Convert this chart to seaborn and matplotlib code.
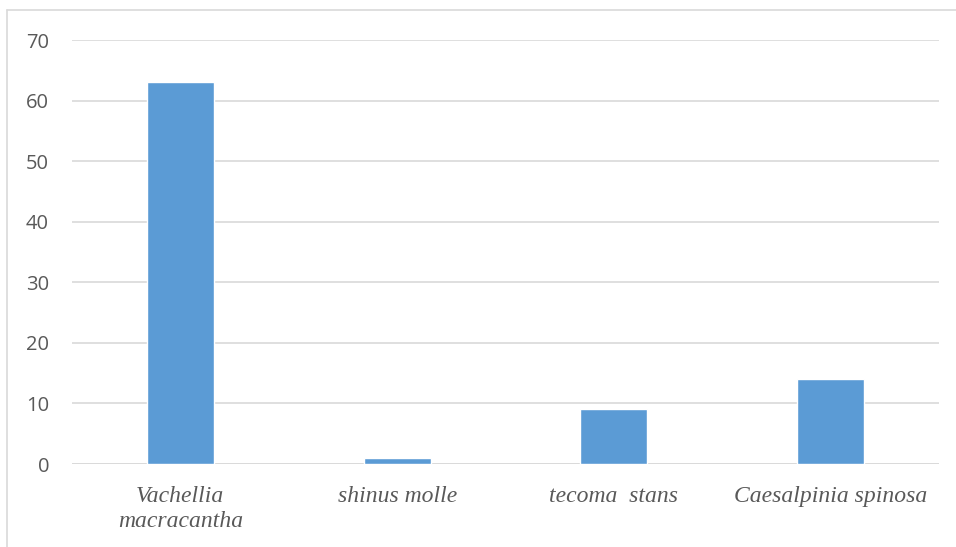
import matplotlib
matplotlib.use("Agg")
import matplotlib.pyplot as plt
import seaborn as sns
import pandas as pd
from matplotlib.lines import Line2D

categories = ["Vachellia\nmacracantha", "shinus molle", "tecoma  stans", "Caesalpinia spinosa"]
values = [63, 1, 9, 14]
yticks = [0, 10, 20, 30, 40, 50, 60, 70]

sns.set_theme(style="white")
plt.rcParams['font.family'] = ['Open Sans', 'DejaVu Sans']

df = pd.DataFrame({"cat": categories, "val": values})

fig = plt.figure(figsize=(9.56, 5.47), dpi=100)
ax = fig.add_axes([72/956, 1-464/547, (939-72)/956, (464-40)/547])

sns.barplot(data=df, x="cat", y="val", color="#5B9BD5", width=0.31,
            saturation=1, ax=ax, zorder=3)

ax.set_ylim(0, 70)
ax.set_yticks(yticks)
ax.set_yticklabels([str(t) for t in yticks], fontsize=14.5, color="#595959")
ax.yaxis.grid(True, color="#D9D9D9", linewidth=1.2, zorder=0)
ax.set_axisbelow(True)
for s in ax.spines.values():
    s.set_visible(False)
ax.tick_params(axis="both", length=0)
ax.tick_params(axis="y", pad=16.5)
ax.tick_params(axis="x", pad=16)
ax.set_xlabel("")
ax.set_ylabel("")
for lbl in ax.get_xticklabels():
    lbl.set_fontfamily(["Liberation Serif", "DejaVu Serif"])
    lbl.set_fontstyle("italic")
    lbl.set_fontsize(17)
    lbl.set_color("#595959")
    lbl.set_linespacing(1.22)
# baseline at 0 drawn as gridline
ax.axhline(0, color="#D9D9D9", linewidth=1.2, zorder=1)

# chart-area border (top and left visible in crop)
fig.add_artist(Line2D([7/956, 7/956], [0, 1-10/547], transform=fig.transFigure,
                      color="#D9D9D9", linewidth=1.2))
fig.add_artist(Line2D([7/956, 1], [1-10/547, 1-10/547], transform=fig.transFigure,
                      color="#D9D9D9", linewidth=1.2))

fig.savefig("out.png", dpi=100)
